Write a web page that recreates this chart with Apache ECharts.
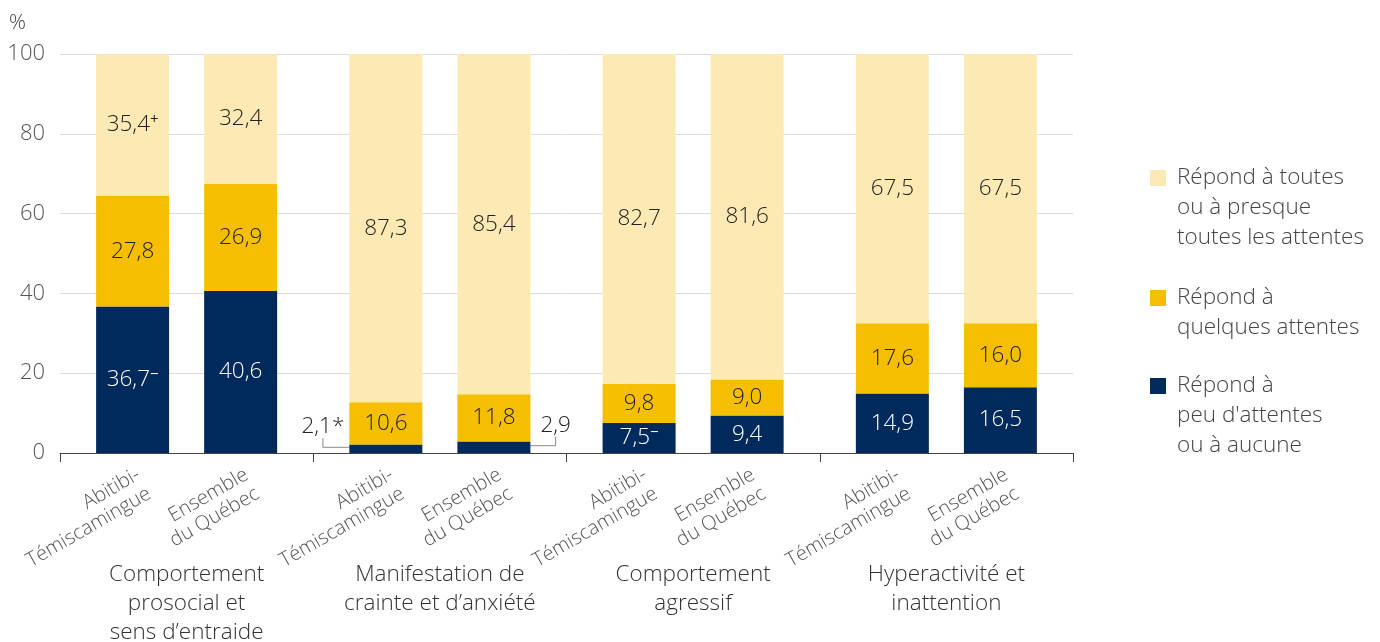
<!DOCTYPE html>
<html>
<head>
    <meta charset="utf-8">
    <script src="https://cdn.jsdelivr.net/npm/echarts@6/dist/echarts.min.js"></script>
    <style>html,body{margin:0;padding:0;background:#fff;}</style>
</head>
<body>
    <div id="main" style="width:1380px;height:642px;"></div>
    <script type="text/javascript">
    var groups = ['Comportement\nprosocial et\nsens d\u2019entraide', 'Manifestation de\ncrainte et d\u2019anxiété', 'Comportement\nagressif', 'Hyperactivité et\ninattention'];
    var regions = ['Abitibi-\nTémiscamingue', 'Ensemble\ndu Québec'];
    var levels = ['Répond à toutes\nou à presque\ntoutes les attentes', 'Répond à\nquelques attentes', 'Répond à\npeu d\'attentes\nou à aucune'];

    // Abitibi-Témiscamingue
    var atToutes = [35.4, 87.3, 82.7, 67.5];
    var atQuelques = [27.8, 10.6, 9.8, 17.6];
    var atPeu = [36.7, 2.1, 7.5, 14.9];
    var atToutesSup = ['+', '', '', ''];
    var atPeuSup = ['\u2212', '', '\u2212', ''];
    var atPeuMark = ['', '*', '', ''];
    // Ensemble du Québec
    var qcToutes = [32.4, 85.4, 81.6, 67.5];
    var qcQuelques = [26.9, 11.8, 9.0, 16.0];
    var qcPeu = [40.6, 2.9, 9.4, 16.5];

    var colors = ['#fde9b3', '#f6be00', '#002a5c'];
    var FONT = '"Open Sans", "Noto Sans", sans-serif';

    function fmt(v, mark, sup) {
        var s = '{v|' + v.toFixed(1).replace('.', ',') + (mark || '') + '}';
        if (sup) s += '{s|' + sup + '}';
        return s;
    }

    function valueLabel(color, sup, mark) {
        return {
            show: true, position: 'inside', color: color,
            fontFamily: FONT, fontWeight: 300, fontSize: 22.5,
            formatter: function (p) {
                return fmt(p.value, mark ? mark[p.dataIndex] : '', sup ? sup[p.dataIndex] : '');
            },
            rich: {
                v: { fontSize: 22.5, lineHeight: 26, color: color, fontFamily: FONT, fontWeight: 300 },
                s: { fontSize: 15, lineHeight: 12, verticalAlign: 'top', color: color, fontFamily: FONT, fontWeight: 400 },
                g: { fontSize: 10, height: 40, lineHeight: 40 }
            }
        };
    }

    function buildStack(stack, regionName, toutes, quelques, peu, toutesSup, peuSup, peuMark, side) {
        var helper = {
            type: 'bar', stack: stack, name: '_' + stack, barWidth: 73, barGap: '48%',
            data: groups.map(function () { return 0; }),
            itemStyle: { color: 'transparent' },
            silent: true,
            label: {
                show: true, position: 'bottom', distance: 4, rotate: 30,
                align: 'right', verticalAlign: 'top', offset: [-3, 6],
                formatter: regionName, color: '#555', fontSize: 20, lineHeight: 22,
                fontFamily: FONT, fontWeight: 300
            }
        };
        var outerRich = valueLabel('#222').rich;
        // values too small for the bar: label outside, with a bracket-shaped guide line
        var peuData = peu.map(function (v, i) {
            if (v < 5) {
                return {
                    value: v,
                    label: {
                        position: side, distance: side === 'left' ? 5 : 10,
                        color: '#222', rich: outerRich,
                        formatter: '{g| }\n' + fmt(v, peuMark ? peuMark[i] : '', '')
                    },
                    labelLine: { show: true, length2: 9, lineStyle: { color: '#8a8a8a', width: 1 } }
                };
            }
            return v;
        });
        var sPeu = {
            type: 'bar', stack: stack, name: levels[2], barWidth: 73, data: peuData,
            itemStyle: { color: colors[2] },
            label: valueLabel('#fff', peuSup, peuMark),
            labelLayout: function (p) {
                if (peu[p.dataIndex] < 5) return { dy: -42 };
            }
        };
        var sQ = {
            type: 'bar', stack: stack, name: levels[1], barWidth: 73, data: quelques,
            itemStyle: { color: colors[1] },
            label: valueLabel('#222')
        };
        var sT = {
            type: 'bar', stack: stack, name: levels[0], barWidth: 73, data: toutes,
            itemStyle: { color: colors[0] },
            label: valueLabel('#222', toutesSup)
        };
        return [helper, sPeu, sQ, sT];
    }

    var series = [].concat(
        buildStack('at', regions[0], atToutes, atQuelques, atPeu, atToutesSup, atPeuSup, atPeuMark, 'left'),
        buildStack('qc', regions[1], qcToutes, qcQuelques, qcPeu, null, null, null, 'right')
    );

    // one legend per item so that the square sits next to the first text line
    function legendFor(name, firstLineY, lines) {
        var pad = '';
        for (var i = 1; i < lines; i++) pad += '\n';
        return {
            orient: 'vertical', left: 1145, top: firstLineY - 15 - (lines - 1) * 30,
            itemWidth: 16, itemHeight: 16, itemGap: 0,
            icon: 'rect', selectedMode: false,
            data: [{ name: name }],
            formatter: function (n) { return pad + n; },
            textStyle: {
                fontSize: 22.5, lineHeight: 30, color: '#444', fontFamily: FONT, fontWeight: 300,
                padding: [0, 0, 0, 6]
            }
        };
    }

    var myChart = echarts.init(document.getElementById('main'));
    myChart.setOption({
        animation: false,
        textStyle: { fontFamily: FONT },
        color: colors,
        grid: { left: 60, right: 307, top: 54, bottom: 189, outerBoundsMode: 'none', containLabel: false },
        legend: [
            legendFor(levels[0], 173, 3),
            legendFor(levels[1], 293, 2),
            legendFor(levels[2], 381, 3)
        ],
        xAxis: {
            type: 'category', data: groups,
            axisLine: { lineStyle: { color: '#444', width: 1 } },
            axisTick: { show: true, length: 9, lineStyle: { color: '#444' } },
            axisLabel: {
                margin: 107, color: '#333', fontSize: 22.5, lineHeight: 29,
                fontFamily: FONT, fontWeight: 300, interval: 0
            }
        },
        yAxis: {
            type: 'value', min: 0, max: 100, interval: 20,
            name: '%', nameLocation: 'end', nameGap: 20,
            nameTextStyle: { color: '#444', fontSize: 21, fontFamily: FONT, fontWeight: 300, align: 'right', padding: [0, 34, 0, 0] },
            axisLine: { show: false }, axisTick: { show: false },
            splitLine: { lineStyle: { color: '#dcdcdc', width: 1 } },
            axisLabel: { color: '#555', fontSize: 22, margin: 15, fontFamily: FONT, fontWeight: 300 }
        },
        series: series
    });
    </script>
</body>
</html>
